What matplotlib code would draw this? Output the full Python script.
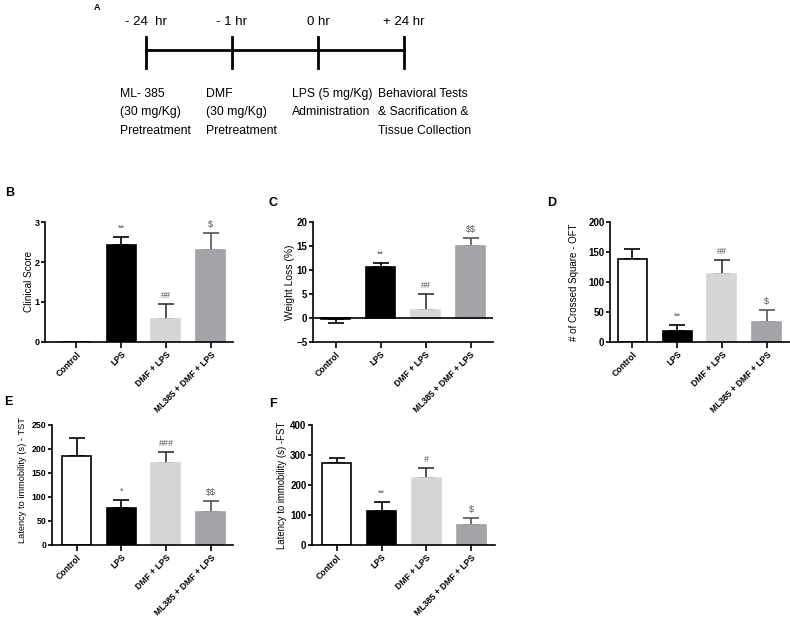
import matplotlib
matplotlib.use("Agg")
import matplotlib.pyplot as plt
import numpy as np

# ------------------------------------------------------------
# Data

groups = ["Control", "LPS", "DMF + LPS", "ML385 + DMF + LPS"]

clinical_mean = [0.0, 2.42, 0.57, 2.29]
clinical_err = [0.0, 0.21, 0.38, 0.43]
clinical_sig = ["", "**", "##", "$"]

weight_mean = [-0.2, 10.6, 1.7, 14.9]
weight_err = [0.9, 0.8, 3.2, 1.8]
weight_sig = ["", "**", "##", "$$"]

oft_mean = [138, 18, 113, 33]
oft_err = [17, 10, 24, 20]
oft_sig = ["", "**", "##", "$"]

tst_mean = [186, 78, 170, 69]
tst_err = [36, 15, 24, 23]
tst_sig = ["", "*", "###", "$$"]

fst_mean = [272, 112, 224, 66]
fst_err = [19, 31, 33, 23]
fst_sig = ["", "**", "#", "$"]

time_labels = ["- 24  hr", "- 1 hr", "0 hr", "+ 24 hr"]
event_labels = [
    "ML- 385\n(30 mg/Kg)\nPretreatment",
    "DMF\n(30 mg/Kg)\nPretreatment",
    "LPS (5 mg/Kg)\nAdministration",
    "Behavioral Tests\n& Sacrification &\nTissue Collection",
]

# ------------------------------------------------------------
# Style

face_colors = ["white", "black", "#d6d6d6", "#a3a3a8"]
edge_colors = ["black", "black", "#d6d6d6", "#a3a3a8"]
err_colors = ["black", "black", "#333333", "#555555"]

plt.rcParams["font.family"] = ["Liberation Sans", "DejaVu Sans"]
plt.rcParams["font.weight"] = "bold"
plt.rcParams["text.parse_math"] = False

W, H = 790, 617
fig = plt.figure(figsize=(W / 100, H / 100), dpi=100)


def px_axes(left, top, right, bottom):
    return fig.add_axes([left / W, 1 - bottom / H, (right - left) / W, (bottom - top) / H])


def bar_panel(ax, means, errs, sigs, ylim, yticks, xlim, ylabel, label_pos, label_size,
              tick_size, zero_line=False):
    x = np.arange(len(groups))
    ax.bar(x, means, width=0.65, color=face_colors, edgecolor=edge_colors, linewidth=1.2, zorder=2)
    for i in range(len(groups)):
        if errs[i] == 0:
            continue
        lo = errs[i] if means[i] < 0 else 0
        hi = errs[i] if means[i] >= 0 else 0
        ax.errorbar(x[i], means[i], yerr=[[lo], [hi]], fmt="none", ecolor=err_colors[i],
                    elinewidth=1.2, capsize=6, capthick=1.2, zorder=1)
        if sigs[i]:
            ax.annotate(sigs[i], (x[i], means[i] + hi), xytext=(0, 3), textcoords="offset points",
                        ha="center", va="bottom", fontsize=6.5, color="#555555", fontweight="normal")
    if zero_line:
        ax.axhline(0, color="black", linewidth=1.2, zorder=3)
    ax.set_xlim(*xlim)
    ax.set_ylim(*ylim)
    ax.set_yticks(yticks)
    ax.set_xticks(x)
    ax.set_xticklabels(groups, rotation=45, ha="right", rotation_mode="anchor", fontsize=6.2)
    ax.tick_params(axis="y", labelsize=tick_size, length=3, width=1.2, pad=1)
    ax.tick_params(axis="x", length=4, width=1.2, pad=1.5)
    ax.spines["top"].set_visible(False)
    ax.spines["right"].set_visible(False)
    ax.spines["left"].set_linewidth(1.2)
    ax.spines["bottom"].set_linewidth(1.2)
    ax.set_ylabel(ylabel, fontsize=label_size)
    ax.yaxis.set_label_coords(*label_pos)


# ------------------------------------------------------------
# A: timeline

ax_a = fig.add_axes([0, 0, 1, 1])
ax_a.set_xlim(0, W)
ax_a.set_ylim(H, 0)
ax_a.axis("off")

tick_x = [146 + 86 * i for i in range(len(time_labels))]
ax_a.plot([tick_x[0], tick_x[-1]], [50, 50], color="black", linewidth=2)
for i, tx in enumerate(tick_x):
    ax_a.plot([tx, tx], [37, 68], color="black", linewidth=2)
    ax_a.text(tx, 22, time_labels[i], ha="center", va="center", fontsize=9.5, fontweight="normal")
    ax_a.text(tx - 26, 88, event_labels[i], ha="left", va="top", fontsize=8.8, linespacing=1.72,
              fontweight="normal")

ax_a.text(97, 7, "A", ha="center", va="center", fontsize=6.5, fontweight="bold")
ax_a.text(10, 193, "B", ha="center", va="center", fontsize=9, fontweight="bold")
ax_a.text(273, 203, "C", ha="center", va="center", fontsize=9, fontweight="bold")
ax_a.text(552, 203, "D", ha="center", va="center", fontsize=9, fontweight="bold")
ax_a.text(8, 402, "E", ha="center", va="center", fontsize=9, fontweight="bold")
ax_a.text(273, 404, "F", ha="center", va="center", fontsize=9, fontweight="bold")

# ------------------------------------------------------------
# B - F: bar panels

ax_b = px_axes(45, 222, 233, 342)
bar_panel(ax_b, clinical_mean, clinical_err, clinical_sig, (0, 3), [0, 1, 2, 3], (-0.7, 3.5),
          "Clinical Score", (-0.06, 0.5), 7.2, 6.5)

ax_c = px_axes(313, 222, 493, 342)
bar_panel(ax_c, weight_mean, weight_err, weight_sig, (-5, 20), [-5, 0, 5, 10, 15, 20], (-0.5, 3.5),
          "Weight Loss (%)", (-0.1, 0.5), 7.4, 7, zero_line=True)

ax_d = px_axes(610, 222, 790, 342)
bar_panel(ax_d, oft_mean, oft_err, oft_sig, (0, 200), [0, 50, 100, 150, 200], (-0.5, 3.52),
          "# of Crossed Square - OFT", (-0.17, 0.5), 7, 7)

ax_e = px_axes(52, 425, 233, 545)
bar_panel(ax_e, tst_mean, tst_err, tst_sig, (0, 250), [0, 50, 100, 150, 200, 250], (-0.55, 3.5),
          "Latency to immobility (s) - TST", (-0.14, 0.54), 6.7, 6.3)

ax_f = px_axes(312, 425, 495, 545)
bar_panel(ax_f, fst_mean, fst_err, fst_sig, (0, 400), [0, 100, 200, 300, 400], (-0.55, 3.53),
          "Latency to immobility (s) -FST", (-0.135, 0.5), 6.9, 7)

fig.savefig("out.png", dpi=100)
